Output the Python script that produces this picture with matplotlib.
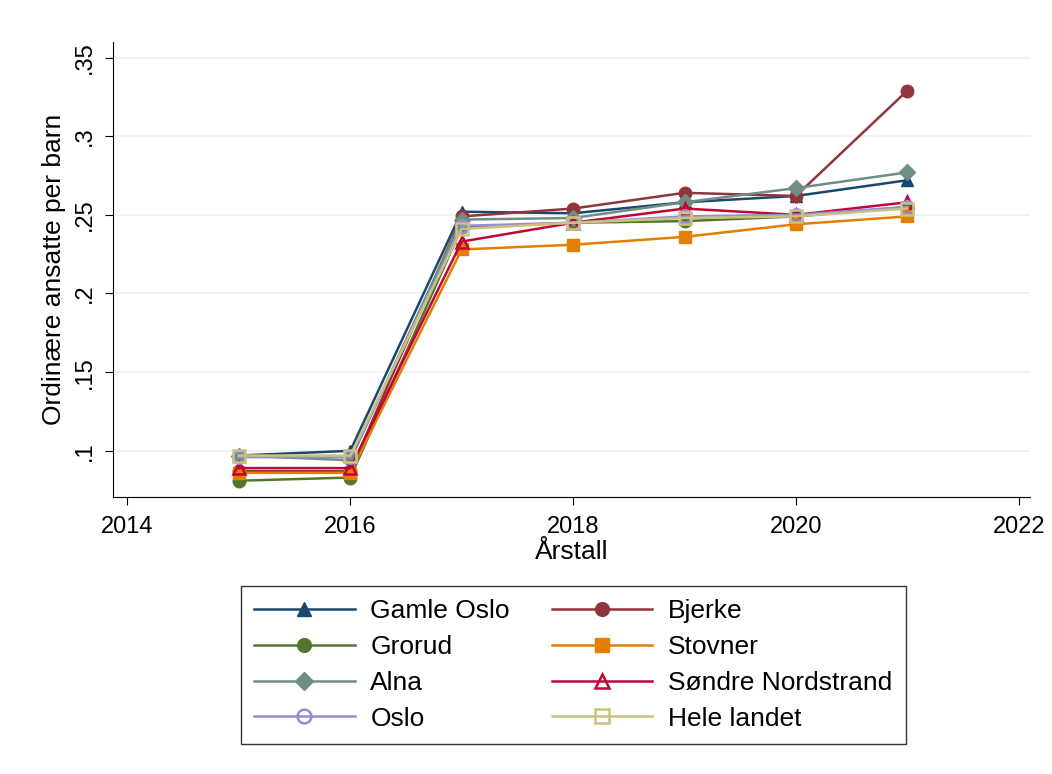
import matplotlib
matplotlib.use('Agg')
import matplotlib.pyplot as plt

plt.rcParams['font.family'] = ['Liberation Sans', 'DejaVu Sans']

years = [2015, 2016, 2017, 2018, 2019, 2020, 2021]

gamle_oslo = [0.097, 0.100, 0.252, 0.251, 0.258, 0.262, 0.272]
bjerke = [0.087, 0.087, 0.249, 0.254, 0.264, 0.262, 0.329]
grorud = [0.081, 0.083, 0.242, 0.245, 0.246, 0.249, 0.255]
stovner = [0.086, 0.086, 0.228, 0.231, 0.236, 0.244, 0.249]
alna = [0.097, 0.094, 0.247, 0.248, 0.258, 0.267, 0.277]
sondre = [0.089, 0.089, 0.233, 0.245, 0.254, 0.250, 0.258]
oslo = [0.096, 0.096, 0.243, 0.245, 0.249, 0.250, 0.255]
hele_landet = [0.097, 0.097, 0.241, 0.245, 0.248, 0.249, 0.254]

series = [
    ('Gamle Oslo', gamle_oslo, '#1a476f', '^', True),
    ('Bjerke', bjerke, '#90353b', 'o', True),
    ('Grorud', grorud, '#55752f', 'o', True),
    ('Stovner', stovner, '#e37e00', 's', True),
    ('Alna', alna, '#6e8e84', 'D', True),
    ('Søndre Nordstrand', sondre, '#c10534', '^', False),
    ('Oslo', oslo, '#938dd2', 'o', False),
    ('Hele landet', hele_landet, '#cac27e', 's', False),
]

fig = plt.figure(figsize=(10.52, 7.74), dpi=100)
ax = fig.add_axes([0.1074, 0.358, 0.8716, 0.588])

handles = []
for name, vals, col, mk, filled in series:
    ms = 9 if mk != 'D' else 8
    h, = ax.plot(years, vals, color=col, marker=mk, markersize=ms, linewidth=1.8,
                 markerfacecolor=col if filled else 'none',
                 markeredgecolor=col, markeredgewidth=1.8 if not filled else 1,
                 label=name)
    handles.append(h)

ax.set_xlim(2013.87, 2022.1)
ax.set_ylim(0.0707, 0.36)
ax.set_xticks([2014, 2016, 2018, 2020, 2022])
yt = [0.1, 0.15, 0.2, 0.25, 0.3, 0.35]
ax.set_yticks(yt)
ax.set_yticklabels(['.1', '.15', '.2', '.25', '.3', '.35'], rotation=90, va='center')
ax.tick_params(labelsize=17, length=6, direction='out')
ax.tick_params(axis='x', pad=8)
ax.tick_params(axis='y', pad=6)
for y in yt:
    ax.axhline(y, color='#eaf2f3', linewidth=1.2, zorder=0)
ax.spines['top'].set_visible(False)
ax.spines['right'].set_visible(False)
ax.set_xlabel('Årstall', fontsize=19, labelpad=1)
ax.set_ylabel('Ordinære ansatte per barn', fontsize=19, labelpad=6)

order = [0, 2, 4, 6, 1, 3, 5, 7]
leg = fig.legend([handles[i] for i in order], [series[i][0] for i in order],
                 ncol=2, loc='center', bbox_to_anchor=(0.545, 0.141),
                 fontsize=19, frameon=True, fancybox=False, edgecolor='black',
                 handlelength=3.8, handletextpad=0.6, columnspacing=1.6,
                 labelspacing=0.45, borderpad=0.5, markerscale=1.1)
leg.get_frame().set_linewidth(1)

fig.savefig('out.png', dpi=100)
